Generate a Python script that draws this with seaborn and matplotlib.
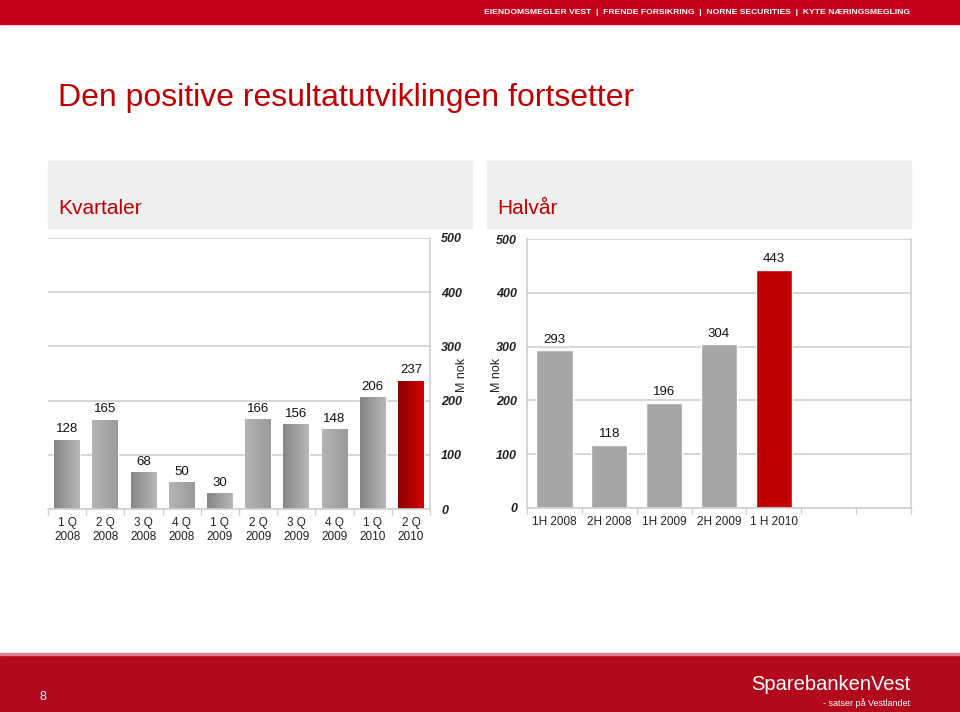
import numpy as np
import pandas as pd
import matplotlib.pyplot as plt
import seaborn as sns
from matplotlib.patches import Rectangle
from matplotlib.colors import LinearSegmentedColormap

# data
kv_labels = ['1 Q\n2008', '2 Q\n2008', '3 Q\n2008', '4 Q\n2008', '1 Q\n2009',
             '2 Q\n2009', '3 Q\n2009', '4 Q\n2009', '1 Q\n2010', '2 Q\n2010']
kv_values = [128, 165, 68, 50, 30, 166, 156, 148, 206, 237]
hy_labels = ['1H 2008', '2H 2008', '1H 2009', '2H 2009', '1 H 2010']
hy_values = [293, 118, 196, 304, 443]
y_ticks = [0, 100, 200, 300, 400, 500]

RED = '#C00000'
GREY = '#A6A6A6'
GRID = '#CFCFCF'

sns.set_theme(style='white')
plt.rcParams['font.family'] = ['Liberation Sans', 'DejaVu Sans']

W, H = 960, 712
fig = plt.figure(figsize=(W / 100, H / 100), dpi=100)
fig.patch.set_facecolor('white')


def box(x, y, w, h):
    # pixel box (top-left origin) -> figure fraction
    return [x / W, 1 - (y + h) / H, w / W, h / H]


# header / footer bands and panel titles
fig.patches.append(Rectangle((0, 1 - 24 / H), 1, 24 / H, transform=fig.transFigure,
                             color='#C4001A', zorder=0))
fig.patches.append(Rectangle((0, 0), 1, 57 / H, transform=fig.transFigure,
                             color='#B20A1C', zorder=0))
fig.patches.append(Rectangle((0, 57 / H), 1, 2 / H, transform=fig.transFigure,
                             color='#D9848C', zorder=0))
for bx in (48, 487):
    fig.patches.append(Rectangle((bx / W, 1 - 228 / H), 424 / W, 67 / H,
                                 transform=fig.transFigure, color='#EFEFEF', zorder=0))

fig.text(910 / W, 1 - 13 / H,
         'EIENDOMSMEGLER VEST  |  FRENDE FORSIKRING  |  NORNE SECURITIES  |  KYTE NÆRINGSMEGLING',
         color='white', fontsize=6.1, fontweight='bold', ha='right', va='center')
fig.text(58 / W, 1 - 98 / H, 'Den positive resultatutviklingen fortsetter',
         color=RED, fontsize=23, ha='left', va='center')
fig.text(58 / W, 1 - 208 / H, 'Kvartaler', color=RED, fontsize=15, ha='left', va='center')
fig.text(497 / W, 1 - 208 / H, 'Halvår', color=RED, fontsize=15, ha='left', va='center')
fig.text(40 / W, 1 - 697 / H, '8', color='white', fontsize=9, ha='left', va='center')
fig.text(910 / W, 1 - 684 / H, 'SparebankenVest', color='white', fontsize=14.5,
         ha='right', va='center')
fig.text(910 / W, 1 - 703 / H, '- satser på Vestlandet', color='white', fontsize=6.5,
         ha='right', va='center')

df_kv = pd.DataFrame({'kvartal': kv_labels, 'resultat': kv_values})
df_hy = pd.DataFrame({'halvaar': hy_labels, 'resultat': hy_values})


def style_axis(ax, n_slots):
    ax.set_ylim(0, 500)
    ax.set_xlim(-0.5, n_slots - 0.5)
    ax.set_yticks(y_ticks)
    ax.grid(axis='y', color=GRID, linewidth=1.2)
    ax.set_axisbelow(True)
    ax.set_xlabel('')
    ax.set_ylabel('')
    for s in ax.spines.values():
        s.set_color(GRID)
        s.set_linewidth(1.2)
    ax.spines['top'].set_visible(False)
    ax.set_xticks(np.arange(-0.5, n_slots), minor=True)
    ax.tick_params(axis='x', which='major', length=0, labelsize=8.5, colors='#222222', pad=6)
    ax.tick_params(axis='x', which='minor', length=4, color=GRID, bottom=True)
    ax.tick_params(axis='y', length=0, labelsize=9, colors='#222222')
    for t in ax.get_yticklabels():
        t.set_fontweight('bold')
        t.set_fontstyle('italic')


def gradient_bars(ax, cmaps):
    grad = np.linspace(0, 1, 64).reshape(1, -1)
    for p, cm in zip(ax.patches, cmaps):
        x0, w, h = p.get_x(), p.get_width(), p.get_height()
        im = ax.imshow(grad, extent=[x0, x0 + w, 0, h], cmap=cm, aspect='auto',
                       zorder=p.get_zorder() + 0.1)
        im.set_clip_path(p)


# left: quarterly
ax1 = fig.add_axes(box(48, 238, 382, 271))
sns.barplot(data=df_kv, x='kvartal', y='resultat', hue='kvartal', legend=False,
            palette=[GREY] * 9 + [RED], width=0.68, saturation=1, ax=ax1)
grey_a = LinearSegmentedColormap.from_list('ga', ['#858585', '#B8B8B8'])
grey_b = LinearSegmentedColormap.from_list('gb', ['#B5B5B5', '#9A9A9A'])
red_c = LinearSegmentedColormap.from_list('rc', ['#8A0000', '#D40000'])
gradient_bars(ax1, [grey_a, grey_b] * 4 + [grey_a, red_c])
for c in ax1.containers:
    ax1.bar_label(c, padding=3, fontsize=9.5, color='#111111')
style_axis(ax1, len(kv_labels))
ax1.spines['left'].set_visible(False)
ax1.yaxis.tick_right()
ax1.tick_params(axis='y', pad=8)
for t in ax1.get_yticklabels():
    t.set_fontweight('bold')
    t.set_fontstyle('italic')
fig.text(462 / W, 1 - 375 / H, 'M nok', rotation=90, fontsize=9,
         ha='center', va='center', color='#222222')

# right: half-year
ax2 = fig.add_axes(box(527, 239, 384, 269))
sns.barplot(data=df_hy, x='halvaar', y='resultat', hue='halvaar', legend=False,
            palette=[GREY] * 4 + [RED], width=0.66, saturation=1, ax=ax2)
for c in ax2.containers:
    ax2.bar_label(c, padding=3, fontsize=9.5, color='#111111')
style_axis(ax2, 7)
ax2.tick_params(axis='y', pad=7)
fig.text(497 / W, 1 - 375 / H, 'M nok', rotation=90, fontsize=9,
         ha='center', va='center', color='#222222')

fig.savefig('out.png', dpi=100)
